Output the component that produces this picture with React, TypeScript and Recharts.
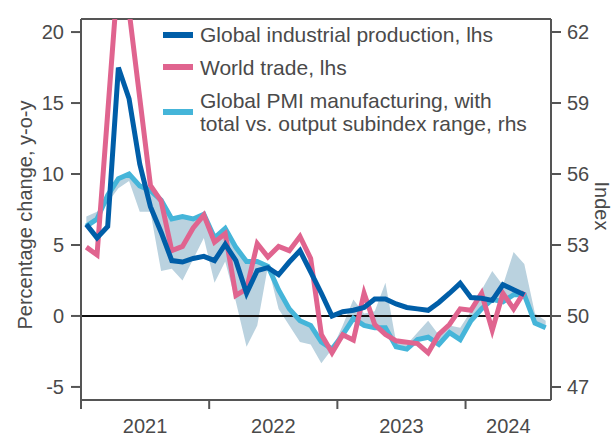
import React from 'react';
import { ComposedChart, Line, Area, XAxis, YAxis, ReferenceLine, Label } from 'recharts';

const months = [
  'Jan 2021', 'Feb 2021', 'Mar 2021', 'Apr 2021', 'May 2021', 'Jun 2021', 'Jul 2021', 'Aug 2021', 'Sep 2021', 'Oct 2021', 'Nov 2021', 'Dec 2021',
  'Jan 2022', 'Feb 2022', 'Mar 2022', 'Apr 2022', 'May 2022', 'Jun 2022', 'Jul 2022', 'Aug 2022', 'Sep 2022', 'Oct 2022', 'Nov 2022', 'Dec 2022',
  'Jan 2023', 'Feb 2023', 'Mar 2023', 'Apr 2023', 'May 2023', 'Jun 2023', 'Jul 2023', 'Aug 2023', 'Sep 2023', 'Oct 2023', 'Nov 2023', 'Dec 2023',
  'Jan 2024', 'Feb 2024', 'Mar 2024', 'Apr 2024', 'May 2024', 'Jun 2024', 'Jul 2024', 'Aug 2024',
];

// Global industrial production, % y-o-y (lhs)
const industrialProduction = [
  6.45, 5.5, 6.3, 17.5, 15.3, 10.7, 7.7, 5.9, 3.9, 3.8, 4.05, 4.2,
  3.9, 5.05, 3.9, 1.6, 3.2, 3.4, 2.9, 3.8, 4.6, 3.1, 1.6, 0.0,
  0.3, 0.4, 0.6, 1.2, 1.2, 0.85, 0.6, 0.5, 0.4, 0.95, 1.6, 2.3,
  1.3, 1.25, 1.1, 2.2, 1.85, 1.5,
];

// World trade, % y-o-y (lhs)
const worldTrade = [
  4.85, 4.3, 14.3, 24.3, 21.5, 15.35, 9.2, 8.1, 4.6, 4.9, 6.2, 7.1,
  5.2, 5.8, 1.45, 1.9, 5.1, 4.15, 4.9, 4.6, 5.6, 4.05, -1.3, -2.6,
  -1.33, -1.7, 1.6, -0.6, -1.3, -1.75, -1.85, -1.95, -2.6, -1.3, -0.6, 0.5,
  0.4, 1.6, -1.0, 1.6, 0.5, 1.7,
];

// Global PMI manufacturing, total (rhs)
const pmiTotal = [
  53.8, 54.1, 55.1, 55.8, 56.0, 55.5, 55.3, 54.9, 54.1, 54.2, 54.1, 54.3,
  53.3, 53.7, 52.9, 52.3, 52.3, 52.1, 51.1, 50.3, 49.8, 49.6, 48.9, 48.6,
  49.2, 49.9, 49.6, 49.5, 49.5, 48.7, 48.6, 49.0, 49.1, 48.8, 49.3, 49.0,
  49.8, 50.3, 50.7, 50.6, 50.9, 50.9, 49.7, 49.5,
];

// Global PMI manufacturing, output subindex (rhs)
const pmiOutput = [
  54.2, 54.4, 54.8, 55.4, 55.7, 54.4, 54.4, 51.9, 52.0, 51.5, 52.4, 53.3,
  51.4, 52.3, 50.6, 48.7, 49.6, 52.1, 50.3, 49.6, 48.9, 48.8, 48.0, 48.6,
  49.6, 50.7, 50.1, 50.2, 51.4, 48.9, 48.8, 49.3, 49.8, 49.2, 49.6, 49.5,
  50.2, 51.1, 51.9, 51.3, 52.7, 52.2, 50.1, 49.8,
];

const yearTicks = [0, 12, 24, 36];
const yearLabels = ['2021', '2022', '2023', '2024'];
const yearLabelPos = [6, 18, 30, 40];

const leftTicks = [-5, 0, 5, 10, 15, 20];
const rightTicks = [47, 50, 53, 56, 59, 62];

const data = months.map((m, i) => ({
  month: m,
  t: i + 0.5,
  ip: industrialProduction[i] ?? null,
  wt: worldTrade[i] ?? null,
  pmi: pmiTotal[i],
  band: [Math.min(pmiTotal[i], pmiOutput[i]), Math.max(pmiTotal[i], pmiOutput[i])],
}));

const FONT = '"Liberation Sans", Arial, Helvetica, sans-serif';
const TEXT = '#4a4a4a';
const AXIS = '#555555';
const C_IP = '#005ea8';
const C_WT = '#e0648f';
const C_PMI = '#45b5d9';
const C_BAND = '#bad2df';

const LEFT_DOMAIN: [number, number] = [-5.92, 20.92];
const RIGHT_DOMAIN: [number, number] = [46.45, 62.55];

const allXTicks = [...yearTicks, ...yearLabelPos].sort((a, b) => a - b);

function XTick(props: any) {
  const { x, y, payload } = props;
  const v = payload.value;
  const yi = yearTicks.indexOf(v);
  if (yi >= 0) {
    return <line x1={x} y1={y} x2={x} y2={y + 9} stroke={AXIS} strokeWidth={2} />;
  }
  const li = yearLabelPos.indexOf(v);
  if (li >= 0) {
    return (
      <text x={x} y={y + 19} dy="0.71em" textAnchor="middle" fill={TEXT} fontSize={20} fontFamily={FONT}>
        {yearLabels[li]}
      </text>
    );
  }
  return null;
}

function LegendBox() {
  const sw = (top: number, color: string) => (
    <div style={{ position: 'absolute', left: 163, top, width: 30, height: 6, background: color }} />
  );
  const txt = (top: number, s: string) => (
    <div style={{ position: 'absolute', left: 200, top, fontSize: 21, lineHeight: '23px', color: TEXT, whiteSpace: 'nowrap', fontFamily: FONT }}>{s}</div>
  );
  return (
    <>
      {sw(32, C_IP)}
      {txt(22.5, 'Global industrial production, lhs')}
      {sw(64, C_WT)}
      {txt(55.5, 'World trade, lhs')}
      {sw(109, C_PMI)}
      {txt(88.5, 'Global PMI manufacturing, with')}
      {txt(111.5, 'total vs. output subindex range, rhs')}
    </>
  );
}

export default function App() {
  return (
    <div style={{ position: 'absolute', left: 0, top: 0, width: 614, height: 437, background: '#fff', fontFamily: FONT }}>
      <ComposedChart width={614} height={437} data={data} margin={{ top: 19, right: 0, bottom: 0, left: 0 }}>
        <XAxis
          xAxisId="x"
          type="number"
          dataKey="t"
          domain={[0, 44]}
          ticks={allXTicks}
          interval={0}
          tick={<XTick />}
          tickLine={false}
          tickSize={0}
          tickMargin={0}
          height={37}
          allowDataOverflow
          axisLine={{ stroke: AXIS, strokeWidth: 2 }}
        />
        <YAxis
          yAxisId="left"
          orientation="left"
          width={81}
          domain={LEFT_DOMAIN}
          ticks={leftTicks}
          interval={0}
          allowDataOverflow
          tickSize={10}
          tickMargin={7}
          axisLine={{ stroke: AXIS, strokeWidth: 2 }}
          tickLine={{ stroke: AXIS, strokeWidth: 2 }}
          tick={{ fill: TEXT, fontSize: 20, fontFamily: FONT }}
        >
          <Label
            content={() => (
              <text x={25} y={215} transform="rotate(-90 25 215)" textAnchor="middle" dominantBaseline="central" fill={TEXT} fontSize={20} fontFamily={FONT}>
                Percentage change, y-o-y
              </text>
            )}
          />
        </YAxis>
        <YAxis
          yAxisId="right"
          orientation="right"
          width={63}
          domain={RIGHT_DOMAIN}
          ticks={rightTicks}
          interval={0}
          allowDataOverflow
          tickSize={10}
          tickMargin={6}
          axisLine={{ stroke: AXIS, strokeWidth: 2 }}
          tickLine={{ stroke: AXIS, strokeWidth: 2 }}
          tick={{ fill: TEXT, fontSize: 20, fontFamily: FONT }}
        >
          <Label
            content={() => (
              <text x={602} y={206} transform="rotate(90 602 206)" textAnchor="middle" dominantBaseline="central" fill={TEXT} fontSize={20} fontFamily={FONT}>
                Index
              </text>
            )}
          />
        </YAxis>
        <ReferenceLine yAxisId="left" xAxisId="x" y={LEFT_DOMAIN[1]} stroke={AXIS} strokeWidth={2} />
        <Area
          xAxisId="x"
          yAxisId="right"
          dataKey="band"
          type="linear"
          stroke="none"
          fill={C_BAND}
          fillOpacity={1}
          isAnimationActive={false}
          activeDot={false}
        />
        <ReferenceLine yAxisId="left" xAxisId="x" y={0} stroke="#111" strokeWidth={2} />
        <Line xAxisId="x" yAxisId="right" dataKey="pmi" type="linear" stroke={C_PMI} strokeWidth={5} dot={false} activeDot={false} isAnimationActive={false} />
        <Line xAxisId="x" yAxisId="left" dataKey="wt" type="linear" stroke={C_WT} strokeWidth={5} dot={false} activeDot={false} isAnimationActive={false} />
        <Line xAxisId="x" yAxisId="left" dataKey="ip" type="linear" stroke={C_IP} strokeWidth={5} dot={false} activeDot={false} isAnimationActive={false} />
      </ComposedChart>
      <LegendBox />
    </div>
  );
}
